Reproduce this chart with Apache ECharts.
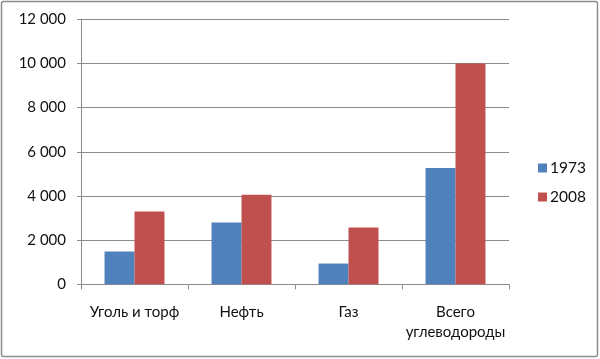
<!DOCTYPE html>
<html><head><meta charset="utf-8">
<script src="https://cdn.jsdelivr.net/npm/echarts@6/dist/echarts.min.js"></script>
<style>html,body{margin:0;padding:0;background:#fff}#c{width:600px;height:359px}</style>
</head><body><div id="c"></div>
<script>
const categories = ["Уголь и торф", "Нефть", "Газ", "Всего\nуглеводороды"];
const seriesNames = ["1973", "2008"];
const values1973 = [1490, 2800, 940, 5270];
const values2008 = [3300, 4060, 2570, 10000];
const yTicks = [0, 2000, 4000, 6000, 8000, 10000, 12000];

const font = "Lato, 'Open Sans', sans-serif";
const chart = echarts.init(document.getElementById('c'), null, {renderer: 'canvas'});
function fmt(v){ return String(v).replace(/\B(?=(\d{3})+(?!\d))/g, ' '); }
chart.setOption({
  animation: false,
  backgroundColor: '#fff',
  graphic: [{type: 'rect', shape: {x: 1.5, y: 1.5, width: 596, height: 355, r: 2}, style: {fill: 'none', stroke: '#8c8c8c', lineWidth: 1.5}, silent: true}],
  grid: {left: 81, right: 91, top: 19.3, bottom: 74.7},
  legend: {
    orient: 'vertical', left: 533, top: 155, itemWidth: 9, itemHeight: 9, itemGap: 13,
    icon: 'rect', data: seriesNames,
    textStyle: {fontFamily: font, fontSize: 15.5, color: '#111', padding: [0,0,0,-2]}
  },
  xAxis: {
    type: 'category', data: categories,
    axisLine: {lineStyle: {color: '#8c8c8c', width: 1}},
    axisTick: {show: true, length: 5, lineStyle: {color: '#8c8c8c'}},
    axisLabel: {interval: 0, fontFamily: font, fontSize: 15, color: '#111', margin: 18, lineHeight: 20}
  },
  yAxis: {
    type: 'value', min: yTicks[0], max: yTicks[yTicks.length-1], interval: 2000,
    axisLine: {show: true, lineStyle: {color: '#8c8c8c', width: 1}},
    axisTick: {show: true, length: 4, lineStyle: {color: '#8c8c8c'}},
    splitLine: {lineStyle: {color: '#8c8c8c', width: 1}},
    axisLabel: {fontFamily: font, fontSize: 15, color: '#111', margin: 15, formatter: fmt}
  },
  series: [
    {name: seriesNames[0], type: 'bar', data: values1973, barGap: '0%', barCategoryGap: '44%', itemStyle: {color: '#4F81BD'}},
    {name: seriesNames[1], type: 'bar', data: values2008, barGap: '0%', barCategoryGap: '44%', itemStyle: {color: '#C0504D'}}
  ]
});
</script></body></html>
